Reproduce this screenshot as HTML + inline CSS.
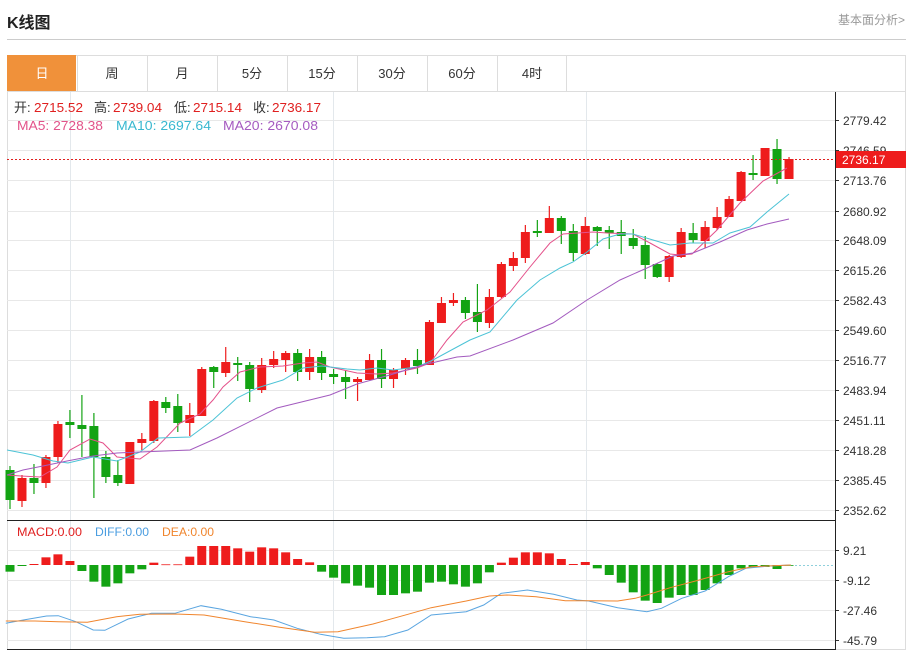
<!DOCTYPE html>
<html><head><meta charset="utf-8"><style>
body{margin:0;background:#fff;width:909px;height:651px;overflow:hidden;font-family:"Liberation Sans","Noto Sans CJK SC",sans-serif;}
.t{position:absolute;white-space:nowrap}
</style></head><body>
<div class="t" style="left:7px;top:9px;font-size:16px;font-weight:bold;color:#222">K线图</div>
<div class="t" style="right:4px;top:11px;font-size:12px;color:#999">基本面分析&gt;</div>
<div style="position:absolute;left:7px;top:39px;width:899px;height:1px;background:#ccc"></div>
<svg id="s" width="909" height="651" style="position:absolute;left:0;top:0" font-family="Liberation Sans, Noto Sans CJK SC, sans-serif"></svg>
<script>
var S=document.getElementById('s'),h='';
function L(x1,y1,x2,y2,c,w,d){h+='<line x1="'+x1+'" y1="'+y1+'" x2="'+x2+'" y2="'+y2+'" stroke="'+c+'" stroke-width="'+(w||1)+'"'+(d?' stroke-dasharray="'+d+'"':'')+'/>';}
function R(x,y,w,hh,f,s){h+='<rect x="'+x+'" y="'+y+'" width="'+w+'" height="'+hh+'" fill="'+f+'"'+(s?' stroke="'+s+'"':'')+'/>';}
function T(x,y,t,c,sz,a,tl){h+='<text x="'+x+'" y="'+y+'" fill="'+c+'" font-size="'+(sz||12)+'"'+(a?' text-anchor="'+a+'"':'')+(tl?' textLength="'+tl+'" lengthAdjust="spacingAndGlyphs"':'')+'>'+t+'</text>';}
function P(pts,c,w){h+='<polyline fill="none" stroke="'+c+'" stroke-width="'+(w||1)+'" points="'+pts.map(function(p){return p[0]+','+p[1]}).join(' ')+'"/>';}
R(7.5,55.5,898,36,'#fff','#ddd');
var tabs=['日','周','月','5分','15分','30分','60分','4时'];
R(7,55,69,36,'#f0913a');
for(var i=0;i<8;i++){var x=7+i*70;if(i>0)L(x+0.5,55,x+0.5,91,'#ddd');T(x+35,78,tabs[i],i==0?'#fff':'#333',13,'middle');}
L(566.5,55,566.5,91,'#ddd');
R(7.5,91.5,898,558,'#fff','#ddd');
var ticks=[['2779.42',120],['2746.59',150],['2713.76',180],['2680.92',211],['2648.09',240],['2615.26',270],['2582.43',300],['2549.60',330],['2516.77',360],['2483.94',390],['2451.11',420],['2418.28',450],['2385.45',480],['2352.62',510]];
ticks.forEach(function(t){L(7,t[1]+.5,835,t[1]+.5,'#e8e8e8');L(835,t[1]+.5,839,t[1]+.5,'#333');T(843,t[1]+5,t[0],'#333',12);});
[[9.21,550],[-9.12,580],[-27.46,610],[-45.79,640]].forEach(function(t){L(7,t[1]+.5,835,t[1]+.5,'#e8e8e8');L(835,t[1]+.5,839,t[1]+.5,'#333');T(843,t[1]+5,t[0].toFixed(2),'#333',12);});
[70,333,586].forEach(function(x){L(x+.5,92,x+.5,650,'#e3e8ec');});
var C=[[470,500,466,509,0],[478,501,475,507,1],[478,483,464,494,0],[457,483,455,488,1],[424,457,421,463,1],[422,425,410,438,0],[425,429,395,457,0],[426,457,413,498,0],[457,477,451,483,0],[475,483,460,486,0],[442,484,442,484,1],[439,443,433,450,1],[401,441,400,443,1],[402,408,397,413,0],[406,423,394,432,0],[415,423,403,436,1],[369,416,367,416,1],[367,372,366,388,0],[362,373,347,377,1],[363,365,357,381,0],[365,389,362,402,0],[365,390,358,393,1],[359,365,351,368,1],[353,360,351,372,1],[353,372,349,381,0],[357,372,349,380,1],[357,373,351,380,0],[374,377,369,384,0],[377,382,371,399,0],[379,382,377,401,1],[360,380,354,380,1],[360,379,349,388,0],[370,379,368,388,1],[360,369,358,375,1],[360,366,349,374,0],[322,365,320,365,1],[303,323,297,323,1],[300,303,293,306,1],[300,313,297,319,0],[312,322,284,332,0],[297,323,289,328,1],[264,297,262,298,1],[258,266,252,271,1],[232,258,225,263,1],[231,233,220,237,0],[218,233,206,233,1],[218,231,216,244,0],[231,253,224,261,0],[226,254,217,255,1],[227,231,226,246,0],[230,233,226,249,0],[232,236,220,254,0],[238,246,229,249,0],[245,265,236,279,0],[264,277,263,278,0],[256,277,255,282,1],[232,257,228,258,1],[233,240,223,243,0],[227,241,221,248,1],[217,228,207,230,1],[199,217,196,217,1],[172,201,171,201,1],[173,175,155,180,0],[148,176,148,176,1],[149,179,139,184,0],[159,179,157,179,1]];
function X(i){return 10+i*11.985;}
C.forEach(function(c,i){var x=X(i),col=c[4]?'#ee1c1c':'#13a313';L(x,c[2],x,c[3],col,1.2);R(x-4.5,c[0],9,Math.max(c[1]-c[0],1.5),col);});
P([[7,475],[21,476],[40,477],[57,467],[70,450],[90,439],[103,443],[117,457],[140,459],[157,447],[180,423],[200,414],[213,400],[223,387],[240,372],[260,367],[283,366],[303,363],[317,362],[330,367],[357,373],[377,374],[393,373],[417,368],[430,363],[447,340],[463,322],[487,310],[510,292],[530,267],[550,243],[563,234],[593,232],[607,233],[633,234],[650,243],[670,254],[680,255],[692,254],[717,230],[740,203],[763,181],[787,168]],'#e4508a');
P([[7,450],[33,455],[53,461],[68,463],[93,457],[117,461],[140,452],[158,438],[190,437],[213,420],[237,398],[257,388],[283,380],[303,368],[322,366],[347,369],[360,370],[377,368],[393,370],[417,367],[433,360],[457,347],[470,340],[490,332],[517,300],[540,280],[560,268],[573,262],[587,252],[603,239],[620,234],[633,234],[653,240],[670,245],[690,243],[713,243],[730,233],[750,227],[767,212],[789,194]],'#4cc3d6');
P([[7,475],[23,470],[43,466],[67,461],[93,456],[117,453],[140,452],[190,450],[217,438],[277,408],[330,395],[357,384],[390,375],[423,365],[457,357],[470,356],[513,340],[553,323],[587,300],[620,280],[647,268],[673,256],[693,253],[720,242],[747,230],[767,224],[789,219]],'#a35bbf');
L(7,159.5,835,159.5,'#e02020',1,'2,2');
R(835,151,71,17,'#ee1c1c');T(842,164,'2736.17','#fff',12);
L(7,520.5,835,520.5,'#222');
var M=[170,153,147,127,118,138,168,200,215,205,175,163,143,148,148,125,93,93,93,100,110,97,100,112,132,142,170,188,205,212,218,240,240,235,230,203,200,208,215,205,172,143,128,112,112,115,132,147,141,160,180,203,232,257,264,248,240,240,225,205,180,160,157,156,162,152];
M.forEach(function(z,i){var y=515+z/3,x=X(i),col=z<150?'#ee1c1c':'#13a313';R(x-4.5,Math.min(y,565),9,Math.max(Math.abs(y-565),0.8),col);});
L(795,565.5,835,565.5,'#8fd0dc',1,'2,2');
function conv(a){return a.map(function(p){return [(p[0]/1.716).toFixed(1),(515+p[1]/3).toFixed(1)]});}
P(conv([[10,325],[40,315],[80,303],[100,302],[130,320],[160,345],[180,346],[220,312],[260,295],[300,295],[345,272],[380,283],[430,305],[470,315],[510,340],[550,358],[590,370],[630,368],[660,365],[700,345],[740,300],[800,290],[830,270],[860,235],[905,225],[950,238],[990,255],[1010,258],[1060,278],[1110,290],[1135,280],[1170,250],[1210,228],[1250,185],[1280,160],[1320,153],[1357,150]]),'#5aa5e0');
P(conv([[10,318],[60,318],[100,320],[150,322],[200,305],[240,298],[300,297],[350,300],[420,320],[480,337],[540,352],[580,350],[640,327],[700,298],[740,278],[800,258],[840,243],[870,240],[920,245],[970,257],[1010,257],[1060,258],[1090,250],[1110,240],[1150,218],[1200,195],[1250,170],[1290,155],[1357,150]]),'#f0852d');
L(835.5,92,835.5,650,'#222');
L(7,649.5,835,649.5,'#222');
T(14,112,'开:','#333',13);T(34,112,'2715.52','#e02020',13,0,49);T(94,112,'高:','#333',13);T(113,112,'2739.04','#e02020',13,0,49);
T(174,112,'低:','#333',13);T(193,112,'2715.14','#e02020',13,0,49);T(253,112,'收:','#333',13);T(272,112,'2736.17','#e02020',13,0,49);
T(17,130,'MA5: 2728.38','#e2538a',13,0,86);T(116,130,'MA10: 2697.64','#39b8d0',13,0,95);T(223,130,'MA20: 2670.08','#a55bc0',13,0,95);
T(17,536,'MACD:0.00','#e02020',12,0,65);T(95,536,'DIFF:0.00','#4a9de0',12,0,54);T(162,536,'DEA:0.00','#f0852d',12,0,52);
S.innerHTML=h;
</script>
</body></html>
